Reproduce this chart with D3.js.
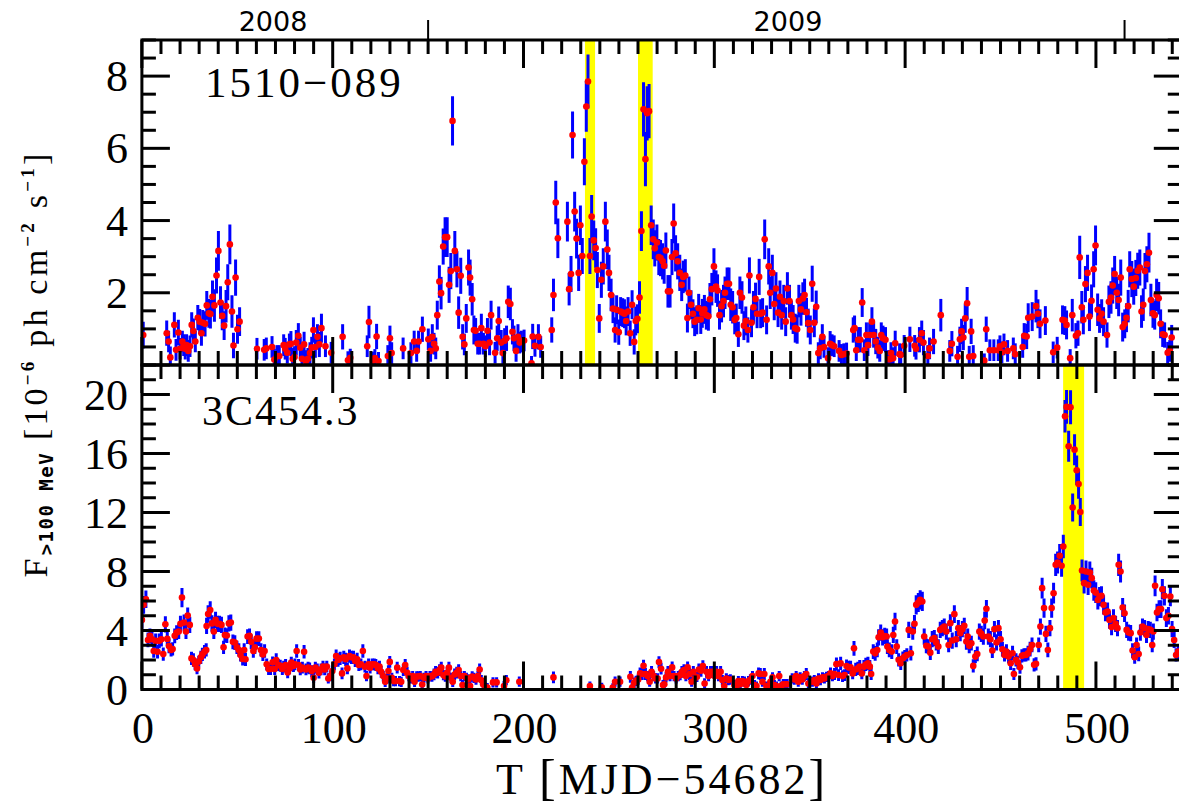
<!DOCTYPE html>
<html><head><meta charset="utf-8">
<script src="https://cdn.jsdelivr.net/npm/d3@7"></script>
<style>html,body{margin:0;padding:0;background:#fff;}svg{display:block;}</style>
</head><body>
<svg id="c" width="1179" height="808"></svg>
<script>
// ---------------- data ----------------
const xDomain = [0, 545];
const xTickLabels = [0, 100, 200, 300, 400, 500];
const yearTicks = [150, 515];
const yearLabels = [["2008", 68.7], ["2009", 338.6]];
const topSource = "1510\u2212089";
const bottomSource = "3C454.3";
const topYDomain = [0, 9];
const topYLabels = [2, 4, 6, 8];
const bottomYDomain = [0, 22];
const bottomYLabels = [0, 4, 8, 12, 16, 20];
const topBands = [[232.2, 237.5], [260.0, 267.7]];
const bottomBands = [[482.8, 493.8]];

// [T, flux, error]  (1510-089)
const flux1510 = [
[0.7,0.83,0.37],[13.0,0.88,0.35],[14.0,0.65,0.3],[14.9,0.21,0.3],[17.0,1.11,0.35],[17.9,0.42,0.3],[19.1,0.90,0.35],[20.0,0.45,0.3],[21.2,0.65,0.3],[21.9,0.55,0.3],[22.7,0.45,0.3],[23.4,0.55,0.3],[24.3,0.39,0.3],[25.2,0.52,0.3],[26.1,1.11,0.35],[27.0,0.94,0.35],[28.0,0.65,0.3],[29.3,1.31,0.35],[30.3,1.20,0.35],[31.2,0.88,0.35],[31.9,1.17,0.35],[33.1,1.14,0.35],[34.0,1.65,0.4],[35.1,1.43,0.4],[35.9,1.41,0.4],[37.0,1.89,0.45],[38.0,1.65,0.45],[39.1,2.48,0.5],[40.1,3.16,0.55],[41.2,1.73,0.45],[42.1,1.36,0.4],[43.1,1.09,0.4],[44.1,1.63,0.45],[45.0,2.29,0.5],[46.1,3.34,0.55],[47.2,1.48,0.45],[48.0,0.54,0.35],[49.1,2.42,0.5],[50.1,0.99,0.4],[51.2,1.20,0.4],
[60.3,0.45,0.3],[64.1,0.42,0.3],[65.2,0.46,0.3],[68.2,0.50,0.3],[69.4,0.15,0.3],[70.8,0.25,0.3],[72.0,0.25,0.3],[74.3,0.55,0.3],[75.1,0.45,0.3],[76.2,0.34,0.3],[77.3,0.57,0.3],[78.1,0.59,0.35],[79.0,0.17,0.3],[80.0,0.22,0.3],[80.9,0.62,0.35],[82.0,0.81,0.35],[83.0,0.48,0.3],[83.9,0.17,0.3],[85.0,0.57,0.35],[86.0,0.11,0.3],[87.0,0.17,0.3],[88.1,0.33,0.3],[89.0,0.48,0.3],[89.9,0.97,0.35],[90.9,0.50,0.3],[92.0,0.78,0.35],[93.0,0.57,0.35],[94.1,1.02,0.4],[96.2,0.52,0.3],[99.2,0.34,0.3],[105.2,0.78,0.35],[108.0,0.13,0.25],[109.2,0.20,0.25],[118.1,0.52,0.3],[119.0,1.19,0.45],[121.1,0.12,0.25],[122.1,0.19,0.25],[123.0,0.79,0.35],[124.0,0.11,0.25],
[128.9,0.25,0.3],[130.0,0.74,0.35],[130.9,0.33,0.3],[136.9,0.46,0.3],[141.0,0.33,0.3],[142.7,0.65,0.3],[144.0,0.39,0.3],[145.0,0.65,0.3],[147.0,0.99,0.35],[150.1,0.71,0.3],[151.3,0.39,0.3],[152.2,0.78,0.35],[153.1,0.59,0.3],[154.0,0.46,0.3],[154.8,1.38,0.4],[155.9,2.31,0.45],[156.8,1.99,0.45],[157.9,3.28,0.5],[158.9,3.54,0.55],[160.0,3.54,0.55],[161.0,2.22,0.5],[161.9,2.60,0.5],[162.8,6.76,0.68],[164.0,3.16,0.55],[165.1,2.65,0.5],[166.0,1.45,0.45],[167.1,2.47,0.5],[168.1,0.78,0.35],[169.0,0.57,0.3],[170.0,1.29,0.4],[171.2,2.70,0.5],[172.0,2.42,0.5],[173.1,1.82,0.45],[174.0,0.97,0.4],
[174.9,0.95,0.35],[176.0,0.59,0.3],[177.1,0.59,0.3],[177.9,1.02,0.4],[179.0,0.59,0.3],[180.0,0.52,0.3],[181.1,0.95,0.35],[182.2,0.62,0.35],[183.0,1.38,0.4],[185.1,0.34,0.3],[186.2,0.74,0.35],[187.0,1.22,0.4],[188.3,0.62,0.35],[189.2,0.33,0.3],[190.1,0.67,0.35],[191.1,0.74,0.35],[192.0,1.75,0.45],[193.1,1.69,0.45],[194.2,0.92,0.35],[195.0,0.74,0.35],[196.1,0.39,0.3],[197.1,0.78,0.35],[198.0,0.62,0.3],[198.9,0.65,0.3],[200.3,0.68,0.3],[204.2,0.05,0.2],[204.8,0.79,0.35],[206.0,0.53,0.3],[207.8,0.78,0.35],[209.0,0.50,0.3],[214.8,0.97,0.35],[215.7,1.94,0.45],[216.9,4.50,0.6],[218.0,3.51,0.55],[223.0,3.97,0.55],[223.9,2.10,0.45],
[224.9,2.52,0.5],[225.7,6.37,0.65],[226.8,4.25,0.55],[227.8,3.50,0.55],[228.9,2.55,0.5],[229.8,3.87,0.55],[230.8,3.02,0.5],[231.9,5.63,0.65],[232.9,7.16,0.7],[233.8,7.85,0.75],[234.8,3.02,0.5],[235.7,4.11,0.6],[236.8,3.45,0.55],[237.8,3.24,0.55],[238.7,2.63,0.5],[239.7,1.29,0.4],[240.8,2.36,0.5],[241.8,2.73,0.5],[242.9,3.97,0.55],[243.9,3.20,0.55],[244.8,2.55,0.5],[245.9,1.94,0.45],[246.9,1.56,0.4],[248.0,0.97,0.35],[248.8,1.53,0.4],[249.9,0.91,0.35],[250.9,1.48,0.4],[252.0,1.45,0.4],[252.9,1.42,0.4],[253.8,1.22,0.4],[254.8,1.48,0.4],[255.9,0.88,0.35],[256.9,1.67,0.4],[258.0,0.64,0.35],[258.8,1.22,0.4],[259.7,1.28,0.4],[260.8,1.87,0.45],[261.8,3.71,0.55],[262.9,7.08,0.75],[263.9,5.70,0.75],[264.8,6.97,0.75],[265.8,7.03,0.75],[266.9,3.87,0.55],[268.0,3.48,0.55],[268.8,3.23,0.5],[269.9,3.39,0.5],[270.9,2.99,0.5],[271.8,2.96,0.5],[272.9,2.87,0.5],
[273.7,2.75,0.5],[274.6,3.17,0.5],[275.7,2.04,0.45],[276.8,2.04,0.45],[277.8,2.99,0.5],[278.7,3.92,0.55],[279.7,3.09,0.5],[280.8,2.87,0.5],[281.9,2.55,0.5],[282.9,2.22,0.45],[283.7,2.44,0.45],[284.8,2.48,0.45],[285.9,1.30,0.4],[286.7,2.00,0.45],[287.8,1.67,0.4],[288.8,1.42,0.4],[289.7,1.20,0.4],[290.8,1.25,0.4],[291.8,1.57,0.4],[292.9,1.26,0.4],[293.7,1.43,0.4],[294.8,1.54,0.4],[295.8,1.38,0.4],[296.9,1.35,0.4],[297.7,1.82,0.45],[298.7,2.10,0.45],[299.8,2.73,0.5],[300.9,2.17,0.45],[301.7,2.06,0.45],[302.7,1.38,0.4],[303.8,1.63,0.45],[304.8,1.77,0.45],[305.6,2.00,0.45],[306.7,2.25,0.45],[307.7,2.25,0.45],[308.6,1.67,0.45],[309.6,1.60,0.45],[310.7,1.25,0.4],[311.5,1.30,0.4],[312.6,0.85,0.35],[313.4,2.00,0.45],[314.5,1.87,0.45],[315.5,1.09,0.4],[316.5,1.22,0.4],[317.6,0.97,0.35],[318.4,2.48,0.5],[319.5,1.17,0.4],[320.5,1.60,0.45],[321.6,1.83,0.45],[322.4,1.42,0.4],[323.5,2.44,0.5],
[324.3,1.42,0.4],[325.3,1.45,0.4],[326.4,3.48,0.55],[327.4,1.25,0.4],[328.5,2.73,0.5],[329.3,2.00,0.45],[330.4,2.55,0.5],[331.4,1.69,0.45],[332.3,2.12,0.45],[333.4,1.45,0.4],[334.4,1.89,0.45],[335.3,1.38,0.4],[336.4,1.77,0.45],[337.4,1.20,0.4],[338.3,2.12,0.45],[339.4,1.77,0.45],[340.4,1.38,0.4],[341.3,1.26,0.4],[342.4,1.02,0.4],[343.4,0.99,0.4],[344.3,1.77,0.45],[345.4,1.54,0.45],[346.4,1.84,0.45],[347.3,1.94,0.45],[348.3,1.46,0.4],[349.2,1.16,0.4],[350.3,0.97,0.4],[351.3,2.25,0.5],[352.4,1.17,0.4],[353.4,1.61,0.45],[354.5,0.33,0.3],[355.5,0.46,0.3],[356.6,0.78,0.35],[357.5,0.50,0.3],[359.6,0.19,0.3],[360.7,0.59,0.35],[361.7,0.55,0.3],[362.8,0.52,0.3],[365.4,0.39,0.3],[366.6,0.28,0.3],[367.9,0.30,0.3],[369.3,0.32,0.3],[372.8,0.97,0.35],
[373.5,1.02,0.35],[374.4,0.41,0.3],[375.4,0.70,0.35],[376.5,0.70,0.35],[377.5,1.73,0.4],[378.6,0.41,0.3],[379.7,0.83,0.35],[380.5,0.55,0.3],[381.4,0.83,0.35],[382.6,1.20,0.4],[383.5,0.83,0.35],[384.6,0.65,0.35],[385.7,0.48,0.3],[386.7,0.39,0.3],[387.5,0.83,0.35],[388.4,0.74,0.35],[389.7,0.70,0.35],[391.2,0.16,0.25],[392.1,0.16,0.25],[392.6,0.33,0.3],[393.7,0.19,0.3],[394.8,0.60,0.35],[397.1,0.30,0.3],[397.7,0.28,0.3],[399.5,0.53,0.3],[402.5,0.71,0.35],[405.0,0.53,0.3],[405.7,0.45,0.3],[407.5,0.70,0.35],[408.7,0.88,0.35],[409.6,0.62,0.35],[411.9,0.25,0.3],[412.8,0.46,0.3],[414.9,0.65,0.35],[418.7,1.38,0.45],
[423.4,0.39,0.3],[424.5,0.59,0.35],[427.5,0.23,0.3],[428.7,0.71,0.35],[429.6,0.93,0.35],[430.5,0.76,0.35],[431.5,1.29,0.4],[432.5,1.71,0.45],[433.6,0.23,0.3],[434.6,0.93,0.35],[435.7,0.25,0.3],[441.5,0.12,0.2],[442.5,0.99,0.35],[444.4,0.41,0.3],[446.5,0.41,0.3],[448.8,0.41,0.3],[449.7,0.52,0.3],[450.7,0.35,0.3],[451.8,0.57,0.3],[453.7,0.39,0.3],[456.7,0.46,0.3],[457.7,0.30,0.3],[461.6,0.50,0.3],[462.4,0.81,0.35],[463.7,0.79,0.35],[464.5,1.31,0.4],[466.6,1.34,0.4],[468.6,1.63,0.45],[469.6,1.42,0.4],[470.7,1.14,0.4],
[473.5,1.23,0.4],[477.6,0.35,0.3],[479.7,0.48,0.3],[482.5,1.25,0.4],[483.7,1.23,0.4],[484.6,1.11,0.4],[486.5,0.19,0.25],[487.6,1.38,0.45],[489.5,0.81,0.35],[490.6,0.88,0.35],[491.5,2.98,0.6],[492.6,1.60,0.45],[493.4,1.25,0.4],[494.5,2.24,0.5],[495.6,2.55,0.5],[496.6,1.34,0.4],[497.7,1.78,0.45],[498.8,2.65,0.5],[499.8,3.31,0.55],[500.9,1.53,0.45],[501.9,1.29,0.4],[503.0,1.42,0.4],[504.0,1.20,0.4],[505.8,0.83,0.35],[506.8,1.75,0.45],[507.9,1.87,0.45],[508.8,2.20,0.5],[509.8,2.52,0.5],[510.9,2.00,0.45],[511.9,1.80,0.45],[513.0,2.42,0.5],[514.0,1.05,0.4],[515.1,1.14,0.4],[516.0,1.31,0.4],[516.9,1.63,0.45],[517.7,2.65,0.5],[518.8,2.38,0.5],[519.8,2.17,0.5],[520.9,2.41,0.5],[521.9,2.61,0.5],[523.0,2.70,0.5],
[523.9,1.48,0.45],[524.8,1.67,0.45],[525.7,2.60,0.5],[526.7,2.79,0.5],[527.8,3.11,0.55],[528.8,1.80,0.45],[529.9,1.43,0.4],[530.8,1.38,0.4],[531.8,1.94,0.45],[532.9,1.85,0.45],[533.9,1.14,0.4],[535.0,0.85,0.35],[536.0,0.83,0.35],[537.6,0.34,0.3],[538.7,0.39,0.3],[539.7,0.76,0.35]
];

// [T, flux, error]  (3C454.3)
const flux3C454 = [
[0.0,4.72,0.6],[0.9,5.74,0.6],[2.1,6.12,0.6],[3.2,3.36,0.5],[4.2,3.64,0.5],[5.3,3.41,0.5],[6.2,2.61,0.45],[7.2,3.30,0.5],[8.2,2.56,0.45],[9.1,3.30,0.5],[10.2,3.41,0.5],[11.2,2.40,0.45],[12.3,4.42,0.55],[13.3,3.43,0.5],[14.2,2.95,0.5],[15.3,2.68,0.45],[16.1,2.75,0.45],[17.2,3.64,0.5],[18.2,3.86,0.5],[19.3,3.93,0.5],[20.2,4.45,0.55],[21.0,6.23,0.65],[22.1,4.54,0.55],[23.1,3.93,0.5],[24.0,5.01,0.55],[25.1,4.38,0.55],[26.0,2.11,0.45],[27.0,2.00,0.45],[27.9,1.71,0.4],[28.9,1.43,0.4],[29.8,1.89,0.4],[30.9,2.18,0.45],[31.7,2.38,0.45],[32.8,2.56,0.45],[33.7,2.68,0.45],[33.9,4.31,0.55],[34.7,5.12,0.6],[35.8,5.39,0.6],[36.7,4.48,0.55],[37.7,3.93,0.5],[38.6,4.72,0.55],[39.6,4.45,0.55],[40.7,4.45,0.55],[41.7,4.38,0.55],[42.8,2.86,0.45],[43.5,3.70,0.5],[44.5,3.66,0.5],[45.6,4.48,0.55],[46.6,4.54,0.55],[47.7,3.23,0.5],[48.7,3.18,0.5],[49.8,2.86,0.45],[50.8,2.68,0.45],[51.7,2.34,0.45],[52.8,2.07,0.45],[53.6,2.68,0.45],[54.3,2.05,0.45],[55.4,3.59,0.5],[56.4,3.64,0.5],[57.3,3.23,0.5],[58.4,2.61,0.45],[59.2,2.86,0.45],[60.1,3.45,0.5],[61.3,3.45,0.5],[62.4,2.68,0.45],[63.4,2.38,0.45],[64.3,2.61,0.45],[65.4,1.71,0.4],[66.4,1.39,0.4],[67.4,1.39,0.4],[68.5,1.84,0.4],[69.6,1.39,0.4],[70.4,2.00,0.45],[71.5,1.66,0.4],[72.5,1.61,0.4],[73.6,1.39,0.4],
[74.3,1.55,0.4],[75.3,1.66,0.4],[76.4,1.16,0.4],[77.4,1.43,0.4],[78.3,1.82,0.4],[79.4,1.59,0.4],[80.2,1.71,0.4],[81.1,2.61,0.45],[82.1,1.66,0.4],[83.0,1.36,0.4],[84.1,1.48,0.4],[85.0,2.56,0.45],[86.0,1.36,0.4],[87.1,1.48,0.4],[87.9,1.43,0.4],[89.0,1.25,0.4],[90.0,0.79,0.35],[90.9,1.48,0.4],[91.9,1.36,0.4],[92.8,1.14,0.4],[93.9,1.36,0.4],[94.9,1.55,0.4],[95.8,1.36,0.4],[96.9,1.55,0.4],[97.7,0.75,0.35],[98.8,0.91,0.35],[99.8,1.25,0.4],[100.9,1.71,0.4],[101.8,2.27,0.45],[102.8,2.00,0.45],[103.9,2.11,0.45],[104.9,1.09,0.4],[105.8,2.18,0.45],[106.8,2.05,0.45],[107.7,1.43,0.4],[108.8,2.27,0.45],[109.8,2.18,0.45],[110.9,2.18,0.45],[111.8,1.93,0.4],[112.8,2.05,0.45],[113.7,1.66,0.4],[114.8,1.71,0.4],[115.8,2.61,0.45],[116.9,1.55,0.4],[117.7,0.91,0.35],[118.8,1.71,0.4],[119.6,1.48,0.4],[120.7,1.71,0.4],[121.8,1.71,0.4],[122.6,1.66,0.4],[123.7,1.43,0.4],
[124.5,1.55,0.4],[125.4,1.20,0.4],[126.5,0.91,0.35],[127.5,0.52,0.35],[128.6,0.75,0.35],[129.2,1.25,0.4],[129.9,1.87,0.4],[131.0,0.79,0.35],[131.9,0.57,0.35],[132.9,0.57,0.35],[133.8,1.48,0.4],[135.0,0.57,0.35],[135.9,0.52,0.35],[137.0,1.32,0.4],[138.0,1.66,0.4],[139.0,1.14,0.4],[139.9,0.91,0.35],[141.0,0.75,0.35],[141.9,0.91,0.35],[142.9,0.52,0.35],[144.0,0.88,0.35],[144.8,0.88,0.35],[145.9,0.91,0.35],[146.9,0.34,0.35],[147.8,0.79,0.35],[148.9,0.91,0.35],[149.9,0.75,0.35],[151.0,0.91,0.35],[152.0,0.88,0.35],[153.1,1.02,0.4],[153.9,1.20,0.4],[155.0,1.14,0.4],[156.0,1.32,0.4],[156.9,1.48,0.4],[158.0,0.98,0.35],[159.0,0.88,0.35],[160.0,1.14,0.4],[160.9,1.48,0.4],[162.0,0.79,0.35],[162.9,0.52,0.35],[163.9,1.02,0.4],[165.0,1.14,0.4],[166.0,1.32,0.4],[167.1,0.91,0.35],[168.0,0.30,0.35],[169.0,0.91,0.35],[170.1,0.79,0.35],[171.0,0.68,0.35],[172.0,0.23,0.35],[173.1,0.88,0.35],
[174.0,0.79,0.35],[175.1,0.68,0.35],[176.1,0.91,0.35],[177.0,1.36,0.4],[177.9,0.63,0.35],[178.9,0.34,0.35],[180.0,0.18,0.3],[181.0,0.14,0.3],[184.0,0.48,0.35],[185.9,0.48,0.35],[189.8,0.23,0.35],[191.0,0.63,0.35],[197.8,0.53,0.35],[215.7,0.82,0.4],
[234.8,0.24,0.3],[241.0,0.15,0.3],[246.8,0.13,0.3],[248.0,0.53,0.35],[250.6,0.53,0.35],[256.0,0.86,0.4],[256.9,0.13,0.3],[258.0,0.46,0.35],[259.0,0.59,0.35],[260.1,0.68,0.35],[261.1,1.09,0.4],[262.2,1.05,0.4],[262.9,1.61,0.4],[263.9,1.05,0.4],[265.0,0.91,0.35],[266.1,0.53,0.35],[267.1,1.20,0.4],[268.2,0.91,0.35],[269.2,0.75,0.35],[270.3,0.75,0.35],[271.0,1.86,0.4],[272.1,1.41,0.4],[273.1,0.30,0.35],
[273.8,0.36,0.35],[274.7,0.82,0.35],[275.7,1.20,0.4],[276.8,0.91,0.35],[277.9,1.50,0.4],[278.9,0.91,0.35],[280.0,0.75,0.35],[281.1,0.91,0.35],[282.1,0.98,0.35],[283.0,1.20,0.4],[284.1,1.32,0.4],[285.1,0.91,0.35],[286.0,1.50,0.4],[287.0,1.05,0.4],[288.1,0.53,0.35],[289.0,1.20,0.4],[289.8,0.75,0.35],[290.9,0.86,0.35],[291.9,1.36,0.4],[293.0,1.27,0.4],[294.0,1.59,0.4],[294.9,0.41,0.35],[295.9,1.20,0.4],[297.0,0.91,0.35],[298.0,1.20,0.4],[299.1,1.20,0.4],[300.1,0.91,0.35],[301.2,1.20,0.4],[302.2,0.91,0.35],[303.3,1.20,0.4],[304.2,0.64,0.35],[305.2,0.24,0.3],[306.3,0.75,0.35],[307.3,0.64,0.35],[308.4,0.68,0.35],[310.5,0.30,0.35],[311.5,0.15,0.3],[312.6,0.57,0.35],[313.6,0.36,0.35],[314.7,0.57,0.35],[315.8,0.53,0.35],[316.8,0.30,0.35],[317.9,0.57,0.35],[318.9,0.68,0.35],[320.0,0.91,0.35],[321.1,0.30,0.35],[322.1,0.24,0.3],[323.2,1.09,0.4],
[324.1,1.05,0.4],[325.2,0.53,0.35],[326.2,1.05,0.4],[327.3,0.24,0.3],[328.4,0.24,0.3],[329.4,0.53,0.35],[330.5,0.82,0.35],[331.5,0.30,0.35],[332.6,0.24,0.3],[334.0,0.91,0.35],[335.0,0.24,0.3],[336.1,0.36,0.35],[337.1,0.36,0.35],[338.2,0.36,0.35],[340.8,0.75,0.35],[341.9,0.68,0.35],[342.9,0.91,0.35],[344.0,0.53,0.35],[345.0,0.82,0.35],[346.1,0.68,0.35],[347.2,0.91,0.35],[348.2,1.05,0.4],[349.3,0.41,0.35],[351.4,0.53,0.35],[352.4,0.64,0.35],[353.5,0.41,0.35],[354.6,0.75,0.35],[355.6,0.64,0.35],[356.7,0.82,0.35],[357.7,0.75,0.35],[358.8,0.86,0.35],[359.8,0.91,0.35],[360.9,1.09,0.4],[361.9,0.91,0.35],[363.0,1.05,0.4],[364.0,1.72,0.45],[365.1,0.98,0.4],[366.2,1.77,0.45],[367.2,0.91,0.4],[368.3,0.98,0.4],[369.3,1.59,0.45],[370.4,1.50,0.45],[371.4,1.50,0.45],[372.5,1.09,0.4],[373.2,2.79,0.5],
[374.1,1.36,0.45],[375.2,1.43,0.45],[376.2,1.55,0.45],[377.3,1.09,0.4],[378.4,1.55,0.45],[379.4,1.70,0.45],[380.5,1.77,0.45],[381.5,1.55,0.45],[382.2,1.05,0.4],[383.3,2.57,0.5],[384.3,2.45,0.5],[385.4,2.68,0.5],[386.1,3.54,0.55],[387.2,3.86,0.55],[388.2,3.54,0.55],[389.3,3.63,0.55],[390.3,3.59,0.55],[390.7,2.91,0.5],[391.7,2.68,0.5],[393.0,2.57,0.5],[393.8,3.70,0.55],[394.7,4.61,0.6],[395.6,2.91,0.5],[396.6,2.01,0.45],[397.7,1.78,0.45],[398.8,2.12,0.45],[399.8,2.23,0.45],[400.9,2.34,0.45],[401.9,4.04,0.55],[403.0,2.46,0.5],[404.0,3.93,0.55],[404.9,4.45,0.6],[405.8,5.74,0.65],[406.9,5.90,0.65],[407.9,6.08,0.65],[409.0,5.97,0.65],[410.0,3.59,0.55],[411.1,2.96,0.5],[412.1,2.91,0.5],[413.2,2.50,0.5],[414.2,3.41,0.55],[415.3,3.48,0.55],[416.3,3.19,0.55],[417.4,2.91,0.5],[418.4,4.04,0.55],[419.5,4.16,0.55],[420.5,4.27,0.55],[421.6,3.93,0.55],[422.8,3.02,0.5],
[423.7,4.50,0.6],[424.7,3.32,0.55],[425.8,5.11,0.6],[426.8,3.41,0.55],[427.9,4.16,0.55],[428.9,3.82,0.55],[430.0,4.09,0.55],[431.0,4.32,0.55],[432.1,3.25,0.55],[432.8,3.59,0.55],[433.6,2.96,0.5],[434.7,3.14,0.5],[435.7,1.60,0.45],[436.8,2.23,0.45],[437.8,2.41,0.5],[438.9,3.93,0.55],[439.9,3.77,0.55],[441.0,3.59,0.55],[441.7,4.68,0.6],[442.6,5.47,0.6],[443.6,3.59,0.55],[444.7,3.41,0.55],[445.7,2.64,0.5],[446.8,4.09,0.55],[447.9,3.19,0.55],[448.9,4.16,0.55],[450.0,3.41,0.55],[451.0,2.73,0.5],[452.1,2.34,0.45],[453.1,2.57,0.5],[454.2,2.23,0.45],[455.3,1.78,0.45],[456.3,2.46,0.5],[457.0,1.05,0.4],[458.1,2.01,0.45],[459.1,1.83,0.45],[460.2,1.51,0.45],[461.2,2.28,0.45],[462.3,2.34,0.45],[463.3,2.34,0.45],[464.4,2.46,0.5],[465.5,2.73,0.5],[466.5,3.02,0.5],[467.6,1.67,0.45],[468.6,1.74,0.45],[470.0,3.02,0.5],[470.9,4.27,0.55],[471.8,6.87,0.7],[472.8,5.52,0.65],
[473.8,3.77,0.55],[474.8,2.68,0.5],[475.9,4.16,0.55],[476.8,5.52,0.65],[477.8,6.53,0.7],[478.9,8.45,0.75],[479.9,8.61,0.75],[481.0,9.07,0.8],[482.0,8.39,0.75],[482.9,9.70,0.8],[483.8,18.52,1.1],[484.6,19.16,1.15],[485.7,16.49,1.05],[486.7,19.14,1.15],[487.8,12.34,0.95],[488.8,16.26,1.05],[489.9,14.86,1.0],[490.9,13.93,1.0],[491.8,12.03,0.95],[492.7,8.07,0.75],[493.8,7.21,0.7],[494.8,8.00,0.75],[495.9,7.10,0.7],[496.8,7.93,0.75],[497.8,7.55,0.7],[498.9,6.71,0.7],[499.9,6.57,0.7],[501.0,6.07,0.65],[501.9,6.30,0.65],[502.9,6.35,0.65],[504.0,5.74,0.65],[505.0,5.22,0.6],[506.1,5.29,0.6],[507.1,4.72,0.6],[508.2,4.23,0.55],[509.2,4.84,0.6],[510.3,4.45,0.55],[511.3,4.16,0.55],[511.9,8.45,0.75],[512.9,8.00,0.75],[514.0,5.56,0.65],[515.0,5.17,0.6],[516.1,4.04,0.55],[517.1,3.86,0.55],[518.2,3.82,0.55],[519.2,2.64,0.5],[520.3,2.19,0.45],[521.3,3.02,0.5],[522.4,2.41,0.5],
[523.3,3.86,0.55],[524.4,4.27,0.55],[525.5,4.16,0.55],[526.5,3.70,0.55],[527.4,4.09,0.55],[528.5,4.04,0.55],[529.5,3.02,0.5],[530.1,3.93,0.55],[531.0,7.03,0.7],[532.0,5.22,0.6],[533.1,5.45,0.6],[534.1,5.45,0.6],[534.8,6.80,0.7],[535.9,6.35,0.65],[536.9,4.84,0.6],[538.0,5.00,0.6],[539.0,6.30,0.65],[539.9,4.09,0.55],[541.0,3.36,0.55],[542.0,2.34,0.45],[543.1,2.57,0.5]
];

// ---------------- drawing ----------------
const svg = d3.select("#c");
const L = 141.9, R = 1181.8;
const topP = {y0: 40, y1: 365};
const botP = {y0: 365, y1: 689.5};
const x = d3.scaleLinear().domain(xDomain).range([L, R]);
const yTop = d3.scaleLinear().domain(topYDomain).range([topP.y1, topP.y0]);
const yBot = d3.scaleLinear().domain(bottomYDomain).range([botP.y1, botP.y0]);
const serif = "'Liberation Serif', 'Times New Roman', serif";

const defs = svg.append("defs");
function clip(id, p) {
  defs.append("clipPath").attr("id", id).append("rect")
    .attr("x", L).attr("y", p.y0).attr("width", R - L).attr("height", p.y1 - p.y0);
}
clip("clipTop", topP); clip("clipBot", botP);

function bands(list, p) {
  svg.append("g").selectAll("rect").data(list).join("rect")
    .attr("x", d => x(d[0])).attr("width", d => x(d[1]) - x(d[0]))
    .attr("y", p.y0).attr("height", p.y1 - p.y0).attr("fill", "#ffff00");
}
bands(topBands, topP);
bands(bottomBands, botP);

function series(data, y, clipId) {
  const g = svg.append("g").attr("clip-path", `url(#${clipId})`);
  g.selectAll("line").data(data).join("line")
    .attr("x1", d => x(d[0])).attr("x2", d => x(d[0]))
    .attr("y1", d => y(d[1] - d[2])).attr("y2", d => y(d[1] + d[2]))
    .attr("stroke", "#0000ff").attr("stroke-width", 3);
  g.selectAll("circle").data(data).join("circle")
    .attr("cx", d => x(d[0])).attr("cy", d => y(d[1])).attr("r", 3.3)
    .attr("fill", "#ff0000");
}
series(flux1510, yTop, "clipTop");
series(flux3C454, yBot, "clipBot");

// frame + ticks
const ax = svg.append("g").attr("stroke", "#000").attr("stroke-width", 3).attr("fill", "none");
function panelFrame(p, y, minorStep, majorStep) {
  ax.append("rect").attr("x", L).attr("y", p.y0).attr("width", R - L).attr("height", p.y1 - p.y0);
  const xt = d3.range(0, xDomain[1] + 0.01, 10);
  xt.forEach(t => {
    const len = (t % 100 === 0) ? 28 : 14;
    ax.append("line").attr("x1", x(t)).attr("x2", x(t)).attr("y1", p.y0).attr("y2", p.y0 + len);
    ax.append("line").attr("x1", x(t)).attr("x2", x(t)).attr("y1", p.y1).attr("y2", p.y1 - len);
  });
  const d = y.domain();
  d3.range(d[0], d[1] + 1e-6, minorStep).forEach(v => {
    const len = (Math.abs(v / majorStep - Math.round(v / majorStep)) < 1e-6) ? 28 : 14;
    ax.append("line").attr("x1", L).attr("x2", L + len).attr("y1", y(v)).attr("y2", y(v));
    ax.append("line").attr("x1", R).attr("x2", R - len).attr("y1", y(v)).attr("y2", y(v));
  });
}
panelFrame(topP, yTop, 0.5, 2);
panelFrame(botP, yBot, 1, 4);

// year ticks on top
yearTicks.forEach(t => {
  svg.append("line").attr("x1", x(t)).attr("x2", x(t)).attr("y1", 20).attr("y2", 40)
    .attr("stroke", "#000").attr("stroke-width", 2);
});
svg.append("g").selectAll("text").data(yearLabels).join("text")
  .attr("x", d => x(d[1])).attr("y", 31).attr("text-anchor", "middle")
  .attr("font-family", "'DejaVu Sans', Arial, sans-serif").attr("font-size", 27)
  .attr("fill", "#000").text(d => d[0]);

// tick labels
const lab = svg.append("g").attr("font-family", serif).attr("fill", "#000");
lab.selectAll(".xl").data(xTickLabels).join("text").attr("class", "xl")
  .attr("x", d => x(d) + 1).attr("y", 743).attr("text-anchor", "middle")
  .attr("font-size", 44).text(d => d);
lab.selectAll(".yt").data(topYLabels).join("text").attr("class", "yt")
  .attr("x", 128).attr("y", d => yTop(d) + 15).attr("text-anchor", "end")
  .attr("font-size", 44).text(d => d);
lab.selectAll(".yb").data(bottomYLabels).join("text").attr("class", "yb")
  .attr("x", 128).attr("y", d => yBot(d) + 15).attr("text-anchor", "end")
  .attr("font-size", 44).text(d => d);

// source names
lab.append("text").attr("x", 205).attr("y", 97).attr("font-size", 43)
  .attr("letter-spacing", 3).text(topSource);
lab.append("text").attr("x", 202).attr("y", 425).attr("font-size", 42)
  .attr("letter-spacing", 2).text(bottomSource);

// x axis title
const xt = lab.append("text").attr("x", 662).attr("y", 794).attr("text-anchor", "middle")
  .attr("font-size", 44).attr("letter-spacing", 3);
xt.append("tspan").text("T ");
xt.append("tspan").attr("font-size", 50).text("[");
xt.append("tspan").text("MJD\u221254682");
xt.append("tspan").attr("font-size", 50).text("]");

// y axis title
const yt = lab.append("text").attr("transform", "translate(47,364) rotate(-90)")
  .attr("text-anchor", "middle").attr("font-size", 34).attr("letter-spacing", 3.2);
yt.append("tspan").text("F");
yt.append("tspan").attr("font-size", 19).attr("font-weight", "bold").attr("letter-spacing", 1.5)
  .attr("font-family", "'DejaVu Sans Mono', monospace").attr("dy", 6).text(">100 MeV");
yt.append("tspan").attr("dy", -6).text(" [10");
yt.append("tspan").attr("font-size", 19).attr("font-weight", "bold").attr("dy", -13).text("\u22126");
yt.append("tspan").attr("dy", 13).text(" ph cm");
yt.append("tspan").attr("font-size", 19).attr("font-weight", "bold").attr("dy", -13).text("\u22122");
yt.append("tspan").attr("dy", 13).text(" s");
yt.append("tspan").attr("font-size", 19).attr("font-weight", "bold").attr("dy", -13).text("\u22121");
yt.append("tspan").attr("dy", 13).text("]");
</script>
</body></html>
